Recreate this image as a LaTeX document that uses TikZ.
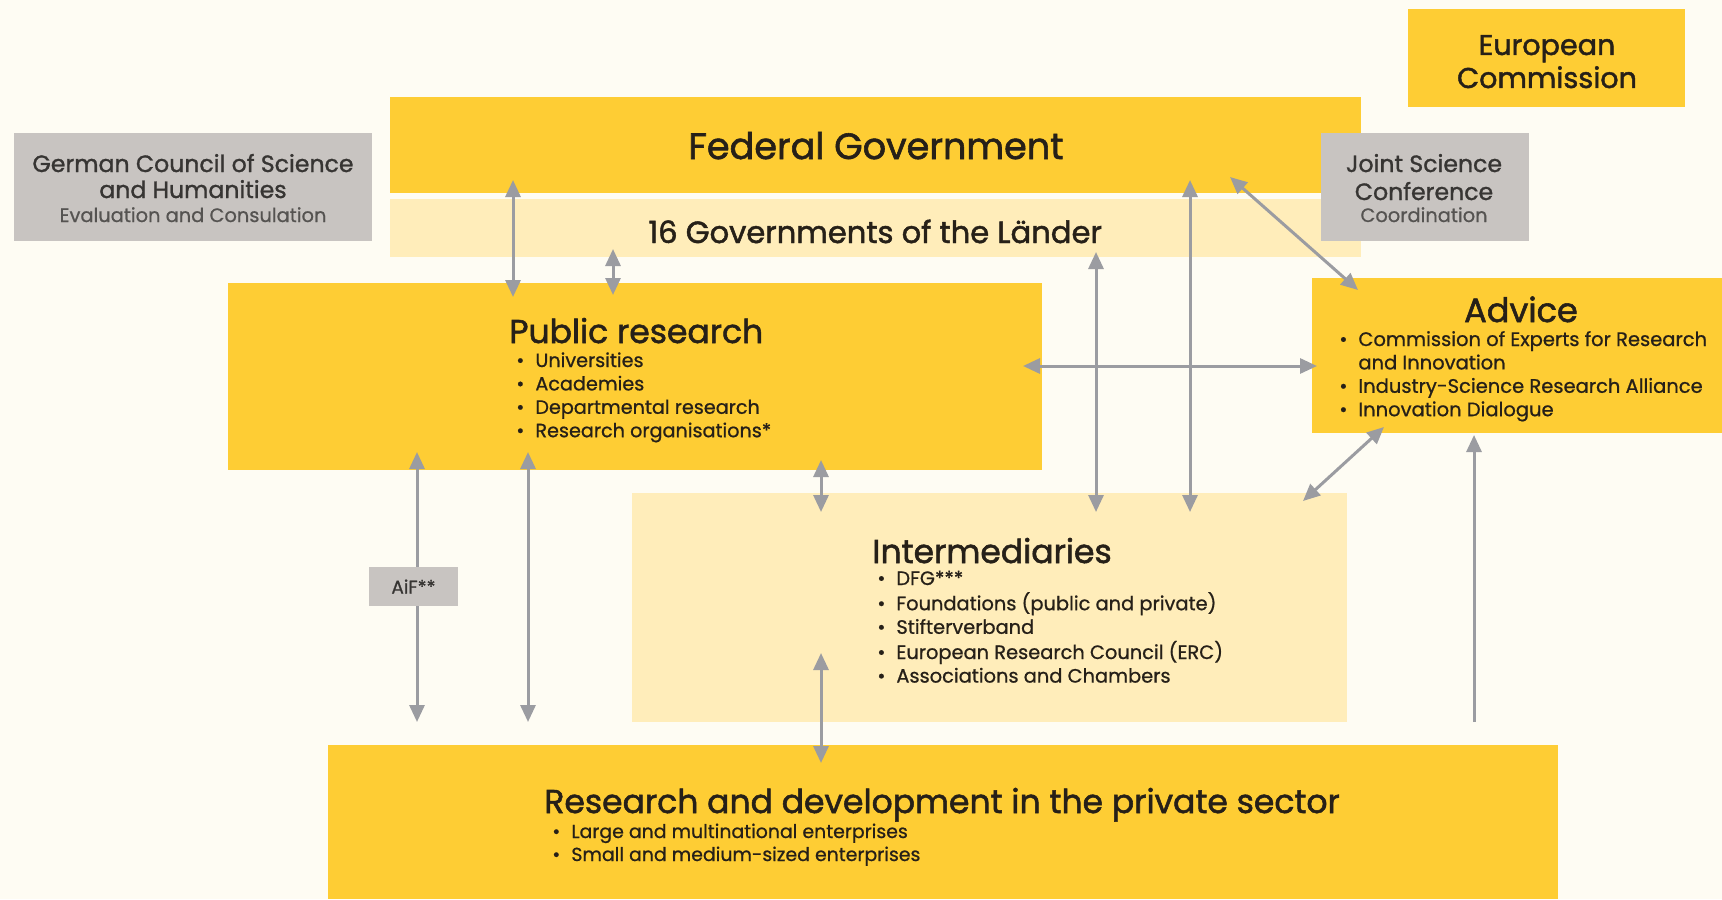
\documentclass[tikz,border=0pt]{standalone}
\usepackage{fontspec}
\setmainfont{Poppins}
\newfontfamily\ttlfont[FakeBold=1.6]{Poppins}
\newfontfamily\lstfont[FakeBold=0.8]{Poppins}
\newfontfamily\gfont[FakeBold=1.2]{Poppins}
\usetikzlibrary{arrows.meta,fit,calc}
\definecolor{bgc}{RGB}{254,252,243}
\definecolor{ylw}{RGB}{254,205,52}
\definecolor{lyl}{RGB}{255,237,186}
\definecolor{gbx}{RGB}{200,196,193}
\definecolor{arc}{RGB}{155,156,161}
\definecolor{txt}{RGB}{38,32,24}
\definecolor{gtx}{RGB}{55,53,51}
\definecolor{gsub}{RGB}{85,83,81}
\newcommand{\bul}{\makebox[9.5pt][l]{\textbullet}}
\begin{document}
\begin{tikzpicture}[x=0.5pt,y=-0.5pt,
  box/.style={inner sep=0pt, outer sep=0pt, draw=none},
  ybox/.style={box, fill=ylw},
  lbox/.style={box, fill=lyl},
  gbox/.style={box, fill=gbx},
  ttl/.style={inner sep=0pt, text=txt, font=\ttlfont\fontsize{16.5}{19}\selectfont},
  lst/.style={inner sep=0pt, text=txt, font=\lstfont\fontsize{9.6}{11.7}\selectfont, anchor=base west},
  gtl/.style={inner sep=0pt, text=gtx, font=\gfont\fontsize{11.8}{13}\selectfont, anchor=base},
  gsb/.style={inner sep=0pt, text=gsub, font=\lstfont\fontsize{9.7}{11}\selectfont, anchor=base},
  tip/.tip={Triangle[length=8.5pt,width=7.5pt]},
  arr/.style={draw=arc, line width=1.5pt, tip-tip},
  arrone/.style={draw=arc, line width=1.5pt, -tip},
]
\useasboundingbox (0,0) rectangle (1722,899);
\fill[bgc] (0,0) rectangle (1722,899);

% x reference coordinates
\coordinate (x417) at (417,0);
\coordinate (x513) at (513,0);
\coordinate (x528) at (528,0);
\coordinate (x613) at (613,0);
\coordinate (x821) at (821,0);
\coordinate (x1096) at (1096,0);
\coordinate (x1190) at (1190,0);
\coordinate (x1474) at (1474,0);
\coordinate (y366) at (0,366);

% boxes
\node[ybox, fit={(1408,9) (1685,107)}] (ec) {};
\node[ybox, fit={(390,97) (1361,193)}] (fed) {};
\node[lbox, fit={(390,199) (1361,257)}] (lan) {};
\node[gbox, fit={(14,133) (372,241)}] (gc) {};
\node[gbox, fit={(1321,133) (1529,241)}] (jsc) {};
\node[ybox, fit={(228,283) (1042,470)}] (pr) {};
\node[ybox, fit={(1312,278) (1722,433)}] (adv) {};
\node[lbox, fit={(632,493) (1347,722)}] (int) {};
\node[ybox, fit={(328,745) (1558,899)}] (rd) {};

% texts
\node[ttl, anchor=base, font=\ttlfont\fontsize{14.3}{17}\selectfont] (ec1) at (1547,55) {European};
\node[ttl, anchor=base, font=\ttlfont\fontsize{14.3}{17}\selectfont] (ec2) at (1547,88) {Commission};
\node[ttl, anchor=base, font=\ttlfont\fontsize{18.3}{21}\selectfont] (fedt) at (876,159) {Federal Government};
\node[ttl, anchor=base west, font=\ttlfont\fontsize{15.3}{18}\selectfont] (lant) at (648,243) {16 Governments of the Länder};
\node[gtl] (gc1) at (193,172) {German Council of Science};
\node[gtl] (gc2) at (193,198) {and Humanities};
\node[gsb] (gc3) at (193,222) {Evaluation and Consulation};
\node[gtl] (js1) at (1424,172) {Joint Science};
\node[gtl] (js2) at (1424,200) {Conference};
\node[gsb] (js3) at (1424,222) {Coordination};

\node[ttl, anchor=base west] (prt) at (509,343) {Public research};
\node[lst] (prl) at (516,367) {\begin{tabular}[t]{@{}l@{}}\bul Universities\\ \bul Academies\\ \bul Departmental research\\ \bul Research organisations*\end{tabular}};

\node[ttl, anchor=base, font=\ttlfont\fontsize{16.8}{19}\selectfont] (advt) at (1521,322) {Advice};
\node[lst, font=\lstfont\fontsize{9.75}{11.7}\selectfont] (advl) at (1339,346) {\begin{tabular}[t]{@{}l@{}}\bul Commission of Experts for Research\\ \hspace{9.5pt}and Innovation\\ \bul Industry-Science Research Alliance\\ \bul Innovation Dialogue\end{tabular}};

\node[ttl, anchor=base west] (intt) at (872,563) {Intermediaries};
\node[lst, font=\lstfont\fontsize{9.7}{11.8}\selectfont] (intl) at (877,585) {\begin{tabular}[t]{@{}l@{}}\bul DFG***\\ \bul Foundations (public and private)\\ \bul Stifterverband\\ \bul European Research Council (ERC)\\ \bul Associations and Chambers\end{tabular}};

\node[ttl, anchor=base west] (rdt) at (544,813) {Research and development in the private sector};
\node[lst, font=\lstfont\fontsize{9.45}{11.5}\selectfont] (rdl) at (552,838) {\begin{tabular}[t]{@{}l@{}}\bul Large and multinational enterprises\\ \bul Small and medium-sized enterprises\end{tabular}};

% connectors
\draw[arr] ([yshift=6.5pt]fed.south -| x513) -- ([yshift=-7pt]pr.north -| x513);
\draw[arr] ([yshift=4pt]lan.south -| x613) -- ([yshift=-6pt]pr.north -| x613);
\draw[arr] ([yshift=2.5pt]lan.south -| x1096) -- ([yshift=-9.5pt]int.north -| x1096);
\draw[arr] ([yshift=6.5pt]fed.south -| x1190) -- ([yshift=-9.5pt]int.north -| x1190);
\draw[arr] ([shift={(-65.5pt,8pt)}]fed.south east) -- ([shift={(23pt,-6pt)}]adv.north west);
\draw[arr] ([xshift=-9.5pt]pr.east |- y366) -- ([xshift=2.5pt]adv.west |- y366);
\draw[arr] ([shift={(36pt,3pt)}]adv.south west) -- ([shift={(-22pt,-4pt)}]int.north east);
\draw[arrone] (int.south -| x1474) -- ([yshift=-1pt]adv.south -| x1474);
\draw[arr] ([yshift=9pt]pr.south -| x417) -- ([yshift=11.5pt]rd.north -| x417);
\draw[arr] ([yshift=9pt]pr.south -| x528) -- ([yshift=11.5pt]rd.north -| x528);
\draw[arr] ([yshift=5pt]pr.south -| x821) -- ([yshift=-9.5pt]int.north -| x821);
\draw[arr] ([yshift=34.5pt]int.south -| x821) -- ([yshift=-9pt]rd.north -| x821);

\node[gbox, fit={(369,567) (458,606)}] (aif) {};
\node[inner sep=0pt, text=gtx, font=\lstfont\fontsize{9.2}{11}\selectfont] (aift) at (aif.center) {AiF**};
\end{tikzpicture}
\end{document}
